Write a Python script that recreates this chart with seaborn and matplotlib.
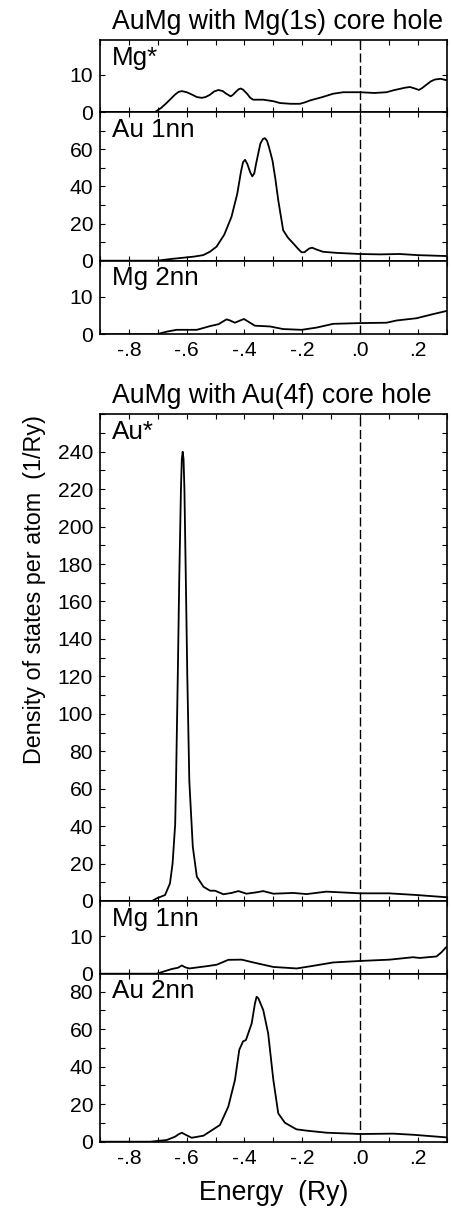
import numpy as np
import pandas as pd
import matplotlib
matplotlib.use("Agg")
import matplotlib.pyplot as plt
import seaborn as sns
from matplotlib.ticker import MultipleLocator, FixedLocator, FuncFormatter

# data (energy in Ry, DOS in 1/Ry)
mg_star_e = [-0.90, -0.71, -0.69, -0.67, -0.64, -0.628, -0.617, -0.60, -0.58, -0.565, -0.548,
             -0.535, -0.52, -0.505, -0.49, -0.475, -0.465, -0.448, -0.44, -0.43, -0.42, -0.413,
             -0.405, -0.39, -0.38, -0.37, -0.335, -0.30, -0.277, -0.24, -0.208, -0.19, -0.173,
             -0.13, -0.093, -0.058, 0.0, 0.05, 0.092, 0.115, 0.138, 0.155, 0.173, 0.19, 0.204,
             0.215, 0.23, 0.245, 0.259, 0.28, 0.30]
mg_star_dos = [0, 0, 1.0, 2.4, 4.7, 5.4, 5.6, 5.3, 4.6, 4.0, 3.8,
               4.0, 4.6, 5.5, 5.9, 5.6, 5.0, 4.2, 4.6, 5.4, 6.1, 6.3,
               6.0, 4.8, 3.8, 3.3, 3.3, 2.9, 2.4, 2.2, 2.2, 2.6, 3.1,
               4.0, 4.9, 5.3, 5.3, 5.1, 5.3, 5.8, 6.2, 6.5, 6.7, 6.3, 5.9,
               6.4, 7.3, 8.2, 8.7, 8.9, 8.5]

au_1nn_e = [-0.90, -0.704, -0.65, -0.612, -0.575, -0.543, -0.52, -0.497, -0.47, -0.445, -0.425,
            -0.412, -0.405, -0.398, -0.39, -0.38, -0.373, -0.366, -0.36, -0.345, -0.336, -0.329,
            -0.322, -0.315, -0.303, -0.293, -0.283, -0.266, -0.25, -0.231, -0.215, -0.202,
            -0.192, -0.185, -0.175, -0.166, -0.15, -0.128, -0.08, -0.04, 0.0, 0.07, 0.138,
            0.2, 0.3]
au_1nn_dos = [0, 0, 1.0, 1.6, 2.2, 3.0, 4.8, 7.5, 14, 23.6, 36,
              48, 53, 54.3, 52, 47.5, 45.4, 47, 52, 63, 65.5, 65.9,
              64.5, 61, 53.9, 44, 32.5, 16.4, 12.5, 9.3, 6.5, 4.5,
              4.6, 5.5, 6.6, 7.0, 6.0, 4.8, 4.2, 3.9, 3.6, 3.4, 3.6,
              3.0, 2.5]

mg_2nn_e = [-0.90, -0.704, -0.67, -0.635, -0.565, -0.519, -0.49, -0.475, -0.462, -0.45, -0.433,
            -0.418, -0.402, -0.385, -0.364, -0.312, -0.266, -0.202, -0.15, -0.093, 0.0, 0.092,
            0.127, 0.196, 0.253, 0.30]
mg_2nn_dos = [0, 0, 0.7, 1.2, 1.2, 2.2, 2.7, 3.4, 4.0, 3.7, 3.1,
              3.6, 4.1, 3.3, 2.3, 2.1, 1.4, 1.2, 1.8, 2.8, 3.0, 3.1,
              3.7, 4.3, 5.4, 6.25]

au_star_e = [-0.90, -0.72, -0.704, -0.675, -0.658, -0.649, -0.640, -0.637, -0.631, -0.626, -0.620,
             -0.617, -0.614, -0.611, -0.608, -0.603, -0.598, -0.591, -0.579, -0.565, -0.542,
             -0.519, -0.502, -0.473, -0.445, -0.421, -0.393, -0.36, -0.335, -0.3, -0.231,
             -0.185, -0.116, 0.0, 0.1, 0.196, 0.3]
au_star_dos = [0, 0, 1.4, 3.2, 9.4, 20, 41, 64, 120, 171, 220,
               236, 240, 236, 220, 171, 120, 64, 29, 13, 7.6,
               5.5, 5.5, 3.6, 4.3, 5.3, 3.9, 4.6, 5.3, 3.9, 4.3,
               3.7, 5.0, 4.1, 4.1, 3.2, 2.0]

mg_1nn_e = [-0.90, -0.704, -0.652, -0.630, -0.617, -0.605, -0.591, -0.531, -0.496, -0.456, -0.41,
            -0.358, -0.3, -0.219, -0.162, -0.093, 0.0, 0.103, 0.184, 0.207, 0.265, 0.282, 0.3]
mg_1nn_dos = [0, 0, 1.25, 1.6, 2.2, 1.7, 1.4, 2.0, 2.4, 3.7, 3.75,
              2.8, 1.8, 1.4, 2.1, 3.0, 3.4, 3.75, 4.4, 4.2, 4.6, 5.7, 7.2]

au_2nn_e = [-0.90, -0.727, -0.669, -0.64, -0.628, -0.617, -0.605, -0.583, -0.542, -0.508, -0.485,
            -0.456, -0.433, -0.418, -0.405, -0.395, -0.375, -0.364, -0.358, -0.352, -0.335,
            -0.318, -0.3, -0.283, -0.26, -0.22, -0.185, -0.116, 0.0, 0.115, 0.184, 0.3]
au_2nn_dos = [0, 0, 0.9, 2.7, 4.0, 4.8, 3.8, 2.1, 3.2, 6.6, 8.9,
              18.7, 32.9, 49, 53.5, 54.2, 63.1, 73.5, 77.3, 76.5, 70.2,
              57.8, 32.9, 15.1, 10.1, 6.6, 5.9, 4.8, 4.1, 4.3, 3.7, 2.3]

panel_names = ["Mg*", "Au 1nn", "Mg 2nn", "Au*", "Mg 1nn", "Au 2nn"]
titles = ["AuMg with Mg(1s) core hole", "AuMg with Au(4f) core hole"]
x_ticks = [-0.8, -0.6, -0.4, -0.2, 0.0, 0.2]

sns.set_theme(style="ticks")
plt.rcParams['font.family'] = ['Liberation Sans', 'DejaVu Sans']
plt.rcParams.update({
    'axes.linewidth': 1.2,
    'axes.edgecolor': 'black',
    'text.color': 'black',
    'axes.labelcolor': 'black',
    'xtick.color': 'black',
    'ytick.color': 'black',
})

W, H = 451, 1211
fig = plt.figure(figsize=(W / 100, H / 100), dpi=100)

# panel extents in pixels (top, bottom), y limit, major/minor tick steps
panels = [
    (mg_star_e, mg_star_dos, 40, 112, 19.3, 10, 10),
    (au_1nn_e, au_1nn_dos, 112, 260.7, 80, 20, 10),
    (mg_2nn_e, mg_2nn_dos, 260.7, 334.3, 19.7, 10, 10),
    (au_star_e, au_star_dos, 414.3, 901, 260, 20, 10),
    (mg_1nn_e, mg_1nn_dos, 901, 973.7, 19.4, 10, 10),
    (au_2nn_e, au_2nn_dos, 973.7, 1141.7, 89.6, 20, 10),
]

left, right = 100.1, 446.6
fmt = FuncFormatter(lambda v, p: f"{v:.1f}".replace("0.", "."))

for i, (e, dos, top, bot, ymax, major, minor) in enumerate(panels):
    ax = fig.add_axes([left / W, 1 - bot / H, (right - left) / W, (bot - top) / H])
    df = pd.DataFrame({"energy": e, "dos": dos})
    sns.lineplot(data=df, x="energy", y="dos", ax=ax, color="black", lw=1.3,
                 estimator=None, sort=False)
    ax.axvline(0, color="black", lw=1.0, dashes=(6.5, 2.5))
    ax.set_xlim(-0.9, 0.3)
    ax.set_ylim(0, ymax)
    ax.set_xlabel("")
    ax.set_ylabel("")
    ax.xaxis.set_major_locator(FixedLocator(x_ticks))
    ax.xaxis.set_minor_locator(MultipleLocator(0.1))
    ax.xaxis.set_major_formatter(fmt)
    ax.yaxis.set_major_locator(MultipleLocator(major))
    ax.yaxis.set_minor_locator(MultipleLocator(minor))
    ax.tick_params(which="both", direction="in", top=True, right=True,
                   length=3.6, width=0.8, labelsize=15.2, pad=5)
    ax.tick_params(axis="x", labelbottom=i in (2, 5))
    # no tick label at the very top edge
    ax.yaxis.set_major_formatter(FuncFormatter(
        lambda v, p, ymax=ymax: "" if v > ymax - 5 else f"{v:g}"))
    ax.annotate(panel_names[i], xy=(0, 1), xycoords="axes fraction",
                xytext=(8.4, -4), textcoords="offset points",
                ha="left", va="top", fontsize=18.7)

fig.text(111.7 / W, 1 - 29.3 / H, titles[0], ha="left", va="baseline", fontsize=19.2)
fig.text(111.7 / W, 1 - 403.3 / H, titles[1], ha="left", va="baseline", fontsize=19.2)
fig.text(273.4 / W, 1 - 1200 / H, "Energy  (Ry)", ha="center", va="baseline", fontsize=19.2)
fig.text(35 / W, 1 - 590 / H, "Density of states per atom  (1/Ry)", rotation=90,
         ha="center", va="center", fontsize=16.8)

fig.savefig("out.png", dpi=100)
